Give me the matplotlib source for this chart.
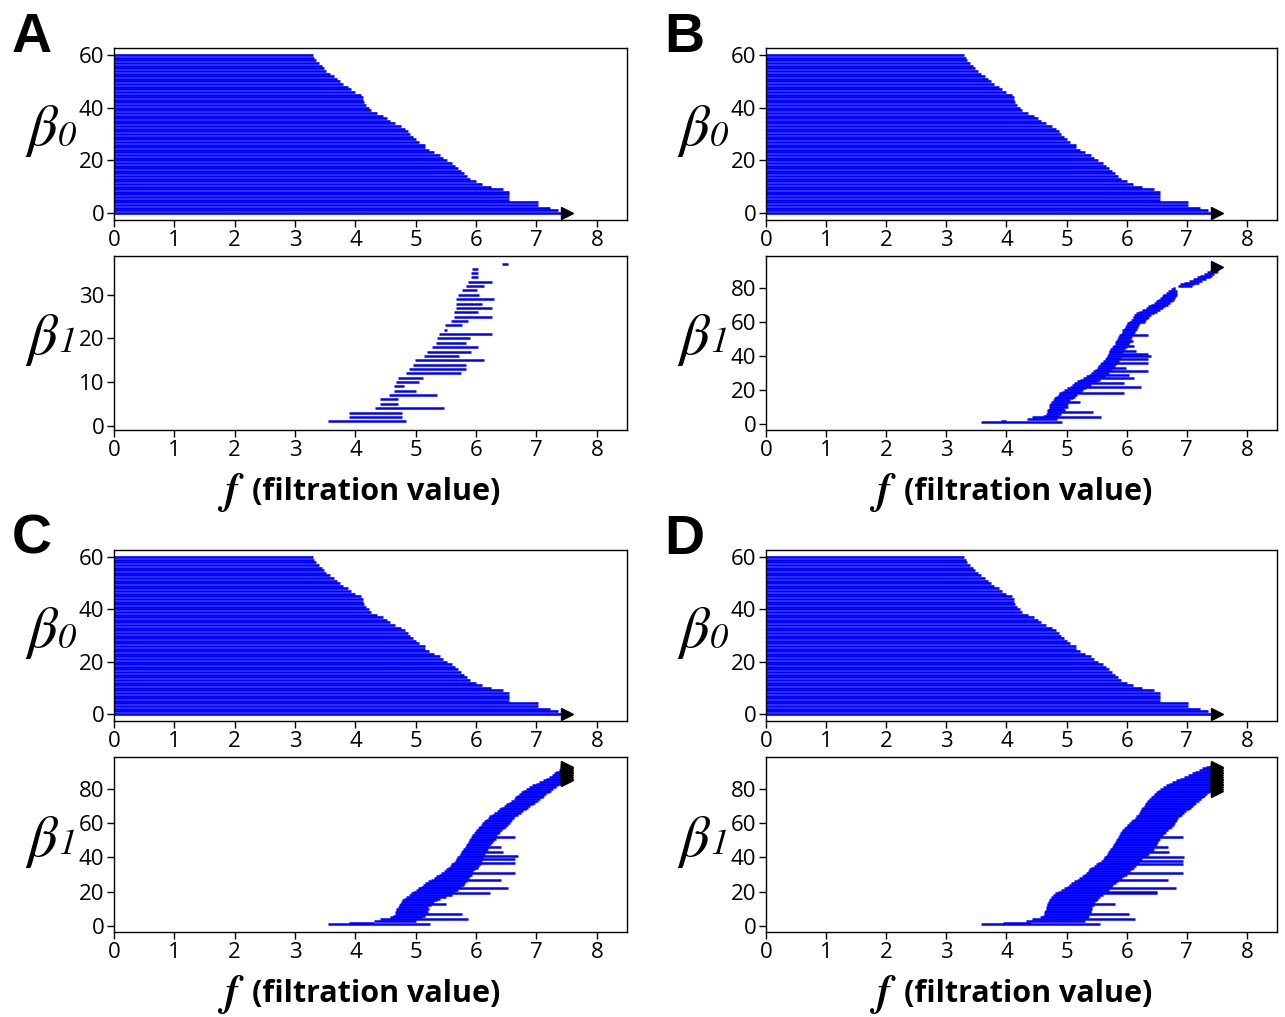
import numpy as np
import matplotlib
matplotlib.use("Agg")
import matplotlib.pyplot as plt

INF = float("inf")

# ---------------- data ----------------
# beta_0 barcode (identical in all four panels): births are 0, deaths per bar index 0..60
b0_deaths = [INF, 7.36, 7.22, 7.02, 7.02, 6.55, 6.55, 6.55, 6.55, 6.45, 6.25,
             6.1, 6.0, 5.9, 5.85, 5.8, 5.75, 5.7, 5.65, 5.6, 5.52,
             5.45, 5.4, 5.3, 5.22, 5.15, 5.15, 5.05, 5.0, 4.95, 4.9,
             4.87, 4.82, 4.75, 4.65, 4.58, 4.52, 4.45, 4.35, 4.25, 4.22,
             4.18, 4.15, 4.13, 4.12, 4.1, 4.0, 3.92, 3.87, 3.8, 3.75,
             3.7, 3.65, 3.58, 3.52, 3.48, 3.44, 3.4, 3.35, 3.32, 3.3]

# beta_1 barcode, panel A (bars 1..37)
A1_births = [3.55, 3.9, 3.9, 4.33, 4.41, 4.41, 4.56, 4.64, 4.64, 4.68, 4.7, 4.84,
             4.88, 4.96, 4.99, 5.13, 5.19, 5.27, 5.33, 5.35, 5.39, 5.46, 5.49,
             5.59, 5.64, 5.64, 5.66, 5.67, 5.67, 5.7, 5.76, 5.84, 5.87, 5.91,
             5.91, 5.93, 6.43]
A1_deaths = [4.84, 4.78, 4.78, 5.47, 4.7, 4.7, 5.35, 5.0, 4.81, 5.05, 5.12, 5.75,
             5.84, 5.83, 6.13, 5.71, 5.92, 6.03, 5.84, 5.9, 6.26, 5.52, 5.76,
             5.86, 6.26, 6.03, 6.26, 6.09, 6.3, 6.04, 6.02, 6.13, 6.26, 6.03,
             6.03, 6.03, 6.53]

# beta_1 barcode, panel B (bars 1..92)
B1_births = [3.57, 3.91, 4.34, 4.42, 4.6, 4.65, 4.68, 4.68, 4.7, 4.7,
             4.7, 4.72, 4.74, 4.77, 4.79, 4.82, 4.85, 4.88, 4.92, 4.96,
             5.0, 5.05, 5.09, 5.13, 5.17, 5.22, 5.27, 5.33, 5.37, 5.41,
             5.44, 5.47, 5.5, 5.53, 5.55, 5.58, 5.61, 5.64, 5.65, 5.67,
             5.69, 5.7, 5.71, 5.72, 5.75, 5.78, 5.8, 5.81, 5.83, 5.84,
             5.86, 5.87, 5.9, 5.92, 5.93, 5.95, 5.97, 5.98, 6.01, 6.04,
             6.07, 6.1, 6.11, 6.12, 6.16, 6.2, 6.26, 6.32, 6.36, 6.4,
             6.45, 6.49, 6.52, 6.55, 6.58, 6.6, 6.65, 6.69, 6.73, 6.77,
             6.85, 6.89, 6.96, 7.03, 7.1, 7.17, 7.22, 7.28, 7.33, 7.39,
             7.44, 7.48]
B1_deaths = [4.93, 4.0, 4.84, 5.57, 4.88, 4.9, 5.44, 4.98, 4.95, 5.02,
             5.0, 5.03, 5.22, 5.06, 5.1, 5.14, 5.17, 5.95, 5.24, 5.28,
             5.33, 6.23, 5.4, 5.95, 5.5, 5.55, 6.12, 5.64, 6.03, 5.7,
             6.35, 5.75, 5.98, 5.8, 5.83, 6.35, 5.87, 6.35, 5.9, 6.4,
             6.35, 5.94, 6.15, 5.97, 6.0, 6.12, 6.03, 6.05, 6.1, 6.07,
             6.09, 6.36, 6.12, 6.14, 6.15, 6.17, 6.18, 6.2, 6.22, 6.3,
             6.32, 6.35, 6.37, 6.4, 6.45, 6.5, 6.55, 6.6, 6.64, 6.68,
             6.72, 6.75, 6.78, 6.8, 6.82, 6.84, 6.84, 6.84, 6.8, 6.8,
             7.08, 7.12, 7.2, 7.26, 7.32, 7.38, 7.42, 7.46, 7.5, 7.52,
             7.53, INF]

# beta_1 barcode, panel C (bars 1..93)
C1_births = [3.55, 3.9, 4.3, 4.4, 4.58, 4.63, 4.65, 4.66, 4.67, 4.68,
             4.7, 4.72, 4.74, 4.75, 4.77, 4.8, 4.84, 4.88, 4.92, 4.96,
             5.0, 5.04, 5.08, 5.12, 5.16, 5.21, 5.26, 5.3, 5.34, 5.38,
             5.42, 5.46, 5.5, 5.53, 5.56, 5.59, 5.62, 5.65, 5.67, 5.69,
             5.71, 5.73, 5.75, 5.77, 5.79, 5.81, 5.83, 5.85, 5.87, 5.88,
             5.9, 5.92, 5.94, 5.96, 5.98, 6.0, 6.03, 6.05, 6.08, 6.1,
             6.13, 6.16, 6.19, 6.22, 6.26, 6.3, 6.34, 6.38, 6.42, 6.46,
             6.5, 6.55, 6.58, 6.62, 6.65, 6.68, 6.71, 6.75, 6.78, 6.82,
             6.87, 6.93, 6.99, 7.05, 7.1, 7.15, 7.2, 7.25, 7.29, 7.33,
             7.37, 7.4, 7.45]
C1_deaths = [5.23, 4.3, 5.0, 5.87, 5.1, 5.15, 5.76, 5.2, 5.18, 5.22,
             5.2, 5.25, 5.5, 5.3, 5.35, 5.4, 5.5, 5.6, 6.23, 5.65,
             5.7, 6.53, 5.75, 5.8, 5.82, 5.85, 6.42, 5.88, 5.9, 5.93,
             6.64, 5.95, 5.98, 6.03, 6.05, 6.08, 6.64, 6.1, 6.64, 6.12,
             6.7, 6.15, 6.45, 6.18, 6.2, 6.42, 6.22, 6.25, 6.28, 6.3,
             6.33, 6.64, 6.35, 6.38, 6.4, 6.43, 6.46, 6.5, 6.53, 6.56,
             6.58, 6.6, 6.62, 6.65, 6.7, 6.74, 6.78, 6.82, 6.86, 6.9,
             6.94, 6.98, 7.02, 7.06, 7.1, 7.13, 7.16, 7.2, 7.24, 7.28,
             7.32, 7.36, 7.4, 7.44, INF, INF, INF, INF, INF, INF,
             INF, INF, INF]

# beta_1 barcode, panel D (bars 1..93)
D1_births = [3.57, 3.94, 4.33, 4.42, 4.55, 4.6, 4.62, 4.63, 4.64, 4.65,
             4.66, 4.67, 4.68, 4.69, 4.7, 4.72, 4.74, 4.77, 4.81, 4.86,
             4.91, 4.96, 5.0, 5.04, 5.08, 5.12, 5.17, 5.21, 5.25, 5.29,
             5.32, 5.35, 5.38, 5.41, 5.45, 5.49, 5.53, 5.57, 5.6, 5.63,
             5.65, 5.67, 5.69, 5.71, 5.73, 5.75, 5.77, 5.79, 5.8, 5.82,
             5.84, 5.86, 5.87, 5.89, 5.91, 5.93, 5.96, 5.98, 6.01, 6.04,
             6.07, 6.1, 6.13, 6.16, 6.18, 6.2, 6.22, 6.24, 6.26, 6.28,
             6.3, 6.32, 6.34, 6.37, 6.4, 6.43, 6.46, 6.49, 6.52, 6.56,
             6.6, 6.65, 6.7, 6.76, 6.82, 6.88, 6.95, 7.02, 7.08, 7.14,
             7.2, 7.26, 7.32]
D1_deaths = [5.55, 4.4, 5.3, 6.14, 5.35, 5.38, 6.03, 5.4, 5.41, 5.42,
             5.43, 5.45, 5.8, 5.48, 5.5, 5.52, 5.55, 5.6, 6.51, 6.51,
             5.7, 6.82, 5.75, 5.78, 5.82, 5.86, 6.68, 5.92, 5.96, 6.0,
             6.94, 6.05, 6.09, 6.12, 6.15, 6.94, 6.2, 6.94, 6.25, 6.96,
             6.33, 6.37, 6.7, 6.43, 6.45, 6.68, 6.48, 6.5, 6.52, 6.54,
             6.56, 6.94, 6.6, 6.63, 6.66, 6.69, 6.72, 6.75, 6.78, 6.8,
             6.82, 6.84, 6.86, 6.88, 6.92, 6.96, 6.99, 7.03, 7.07, 7.1,
             7.13, 7.16, 7.2, 7.24, 7.27, 7.3, 7.33, 7.37, INF, INF,
             INF, INF, INF, INF, INF, INF, INF, INF, INF, INF,
             INF, INF, INF]

panel_letters = ["A", "B", "C", "D"]
b0_yticks = [0, 20, 40, 60]
A1_yticks = [0, 10, 20, 30]
BCD1_yticks = [0, 20, 40, 60, 80]
x_ticks = [0, 1, 2, 3, 4, 5, 6, 7, 8]
xlabel_text = "(filtration value)"

# ---------------- drawing ----------------
plt.rcParams["font.family"] = ["Open Sans", "DejaVu Sans"]

W, H = 1285, 1017
fig = plt.figure(figsize=(W / 100, H / 100), dpi=100)

INF_END = 7.5
BAR_COLOR = "#0000ff"


def px_axes(left, top, right, bottom):
    return fig.add_axes([left / W, 1 - bottom / H, (right - left) / W, (bottom - top) / H])


def ftext(x, y, s, **kw):
    return fig.text(x / W, 1 - y / H, s, **kw)


def style(ax, yticks, ylim):
    ax.set_xlim(0, 8.5)
    ax.set_ylim(*ylim)
    ax.set_xticks(x_ticks)
    ax.set_yticks(yticks)
    ax.tick_params(labelsize=16, length=5, width=1, pad=2)
    for s in ax.spines.values():
        s.set_linewidth(1.0)


def draw_bars(ax, ys, births, deaths, lw):
    births = np.asarray(births, float)
    deaths = np.asarray(deaths, float)
    ys = np.asarray(ys, float)
    inf = ~np.isfinite(deaths)
    ends = np.where(inf, INF_END - 0.06, deaths)
    ax.hlines(ys, births, ends, color=BAR_COLOR, lw=lw)
    if inf.any():
        ax.plot(np.full(inf.sum(), INF_END), ys[inf], ls="none", marker=">",
                color="black", ms=8, mec="black")


cols = {"A": (114, 627), "B": (766, 1277), "C": (114, 627), "D": (766, 1277)}
rows_top = {"A": (48, 220, 256, 430), "B": (48, 220, 256, 430),
            "C": (550, 721, 757, 932), "D": (550, 721, 757, 932)}
b1_data = {"A": (A1_births, A1_deaths), "B": (B1_births, B1_deaths),
           "C": (C1_births, C1_deaths), "D": (D1_births, D1_deaths)}

serif_it = dict(family="STIXGeneral", style="italic")

for letter in panel_letters:
    l, r = cols[letter]
    t0, b0, t1, b1 = rows_top[letter]
    ax0 = px_axes(l, t0, r, b0)
    n0 = len(b0_deaths)
    draw_bars(ax0, np.arange(n0), np.zeros(n0), b0_deaths, lw=1.9)
    style(ax0, b0_yticks, (-2.7, 62.7))

    ax1 = px_axes(l, t1, r, b1)
    births, deaths = b1_data[letter]
    n1 = len(births)
    draw_bars(ax1, np.arange(1, n1 + 1), births, deaths, lw=1.8)
    if letter == "A":
        style(ax1, A1_yticks, (-1.0, 38.9))
    else:
        style(ax1, BCD1_yticks, (-3.5, 98.6))

    # panel letter
    ftext(l - 102, t0 - 36, letter, fontsize=40, fontweight="bold",
          family="Liberation Sans", ha="left", va="top")
    # beta labels
    for (tt, bb, sub, dy) in ((t0, b0, "0", 3), (t1, b1, "1", 0)):
        yc = (tt + bb) / 2
        ftext(l - 72, yc - 3, "\u03b2", fontsize=42, ha="center", va="center", **serif_it)
        ftext(l - 47, yc + dy, sub, fontsize=26, ha="center", va="center", **serif_it)
    # x label
    ylab = b1 + 62
    ftext(l + 262, ylab, xlabel_text, fontsize=22, fontweight="bold",
          ha="center", va="center")
    ftext(l + 117, ylab + 1, "f", fontsize=30, fontweight="bold",
          ha="center", va="center", **serif_it)

fig.savefig("out.png", dpi=100)
